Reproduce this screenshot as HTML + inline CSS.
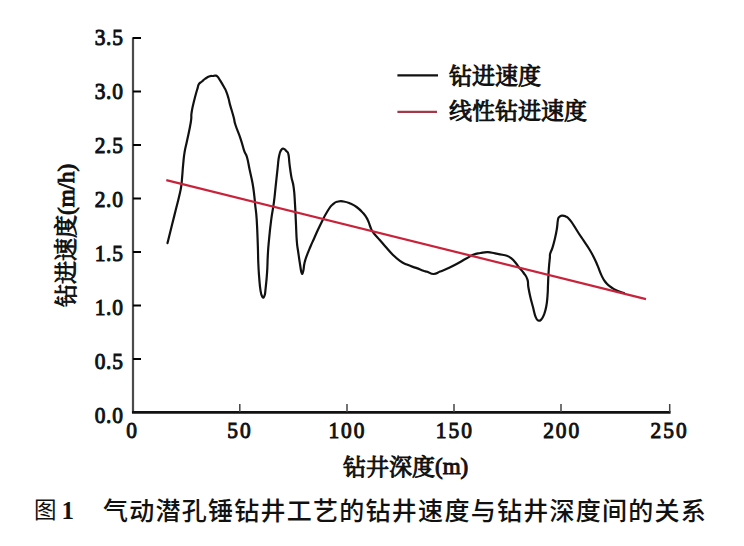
<!DOCTYPE html>
<html><head><meta charset="utf-8">
<style>
html,body{margin:0;padding:0;background:#fff;}
body{width:744px;height:546px;overflow:hidden;position:relative;}
svg{position:absolute;left:0;top:0;}
.tl{font-family:"Liberation Serif",serif;font-size:23.8px;fill:#111;stroke:#111;stroke-width:1.0;}
.cj{font-family:"Liberation Serif","Noto Serif CJK SC",serif;font-size:23px;fill:#111;stroke:#111;stroke-width:0.95;}
.cap{font-family:"Liberation Sans","Noto Sans CJK SC",sans-serif;font-size:25px;font-weight:500;letter-spacing:1.26px;fill:#111;}
.yt{stroke:#000;stroke-width:2;}
.xt{stroke:#444;stroke-width:1.5;}
</style></head><body>
<svg width="744" height="546" viewBox="0 0 744 546">
<line x1="133" y1="37.2" x2="133" y2="413" stroke="#4a4a4a" stroke-width="2.2"/>
<line x1="132" y1="412.3" x2="670.6" y2="412.3" stroke="#111" stroke-width="2.8"/>
<text transform="translate(123.6,422.6) scale(0.9,1)" class="tl" letter-spacing="0.8" text-anchor="end">0.0</text>
<line x1="133" y1="359.0" x2="141" y2="359.0" class="yt"/>
<text transform="translate(123.6,368.6) scale(0.9,1)" class="tl" letter-spacing="0.8" text-anchor="end">0.5</text>
<line x1="133" y1="305.5" x2="141" y2="305.5" class="yt"/>
<text transform="translate(123.6,314.6) scale(0.9,1)" class="tl" letter-spacing="0.8" text-anchor="end">1.0</text>
<line x1="133" y1="252.0" x2="141" y2="252.0" class="yt"/>
<text transform="translate(123.6,260.6) scale(0.9,1)" class="tl" letter-spacing="0.8" text-anchor="end">1.5</text>
<line x1="133" y1="198.5" x2="141" y2="198.5" class="yt"/>
<text transform="translate(123.6,206.6) scale(0.9,1)" class="tl" letter-spacing="0.8" text-anchor="end">2.0</text>
<line x1="133" y1="145.0" x2="141" y2="145.0" class="yt"/>
<text transform="translate(123.6,152.6) scale(0.9,1)" class="tl" letter-spacing="0.8" text-anchor="end">2.5</text>
<line x1="133" y1="91.5" x2="141" y2="91.5" class="yt"/>
<text transform="translate(123.6,98.6) scale(0.9,1)" class="tl" letter-spacing="0.8" text-anchor="end">3.0</text>
<line x1="133" y1="38.0" x2="141" y2="38.0" class="yt"/>
<text transform="translate(123.6,44.6) scale(0.9,1)" class="tl" letter-spacing="0.8" text-anchor="end">3.5</text>
<text transform="translate(132.6,437.8) scale(0.9,1)" class="tl" letter-spacing="2.2" text-anchor="middle">0</text>
<line x1="239.8" y1="404" x2="239.8" y2="412" class="xt"/>
<text transform="translate(240.0,437.8) scale(0.9,1)" class="tl" letter-spacing="2.2" text-anchor="middle">50</text>
<line x1="347.0" y1="404" x2="347.0" y2="412" class="xt"/>
<text transform="translate(347.4,437.8) scale(0.9,1)" class="tl" letter-spacing="2.2" text-anchor="middle">100</text>
<line x1="454.0" y1="404" x2="454.0" y2="412" class="xt"/>
<text transform="translate(454.8,437.8) scale(0.9,1)" class="tl" letter-spacing="2.2" text-anchor="middle">150</text>
<line x1="561.0" y1="404" x2="561.0" y2="412" class="xt"/>
<text transform="translate(562.2,437.8) scale(0.9,1)" class="tl" letter-spacing="2.2" text-anchor="middle">200</text>
<line x1="669.7" y1="404" x2="669.7" y2="412" class="xt"/>
<text transform="translate(669.6,437.8) scale(0.9,1)" class="tl" letter-spacing="2.2" text-anchor="middle">250</text>

<path d="M167.50,243.10 C168.73,238.17 169.81,233.83 172.10,224.60 C174.39,215.37 174.23,216.02 176.10,208.50 C177.97,200.98 177.74,202.32 179.10,196.40 C180.46,190.48 180.37,191.66 181.20,186.30 C182.03,180.94 181.67,182.19 182.20,176.30 C182.73,170.41 182.56,170.65 183.20,164.20 C183.84,157.75 183.53,158.55 184.60,152.10 C185.67,145.65 185.55,147.95 187.20,140.00 C188.85,132.05 189.65,129.39 190.80,122.30 C191.95,115.21 190.86,118.12 191.50,113.40 C192.14,108.68 192.16,109.29 193.20,104.60 C194.24,99.91 194.23,100.20 195.40,95.80 C196.57,91.40 196.67,91.19 197.60,88.10 C198.53,85.01 197.73,85.96 198.90,84.20 C200.07,82.44 200.29,82.97 202.00,81.50 C203.71,80.03 203.25,80.09 205.30,78.70 C207.35,77.31 207.65,77.02 209.70,76.30 C211.75,75.58 211.53,76.16 213.00,76.00 C214.47,75.84 214.03,75.57 215.20,75.70 C216.37,75.83 216.09,75.25 217.40,76.50 C218.71,77.75 218.34,77.60 220.10,80.40 C221.86,83.20 222.37,84.07 224.00,87.00 C225.63,89.93 225.03,88.47 226.20,91.40 C227.37,94.33 227.39,94.48 228.40,98.00 C229.41,101.52 229.15,101.40 230.00,104.60 C230.85,107.80 230.59,106.51 231.60,110.00 C232.61,113.49 232.76,113.70 233.80,117.70 C234.84,121.70 233.69,119.37 235.50,125.00 C237.31,130.63 238.28,131.89 240.60,138.80 C242.92,145.71 242.49,145.97 244.20,150.90 C245.91,155.83 245.53,152.18 247.00,157.30 C248.47,162.42 248.23,163.25 249.70,170.10 C251.17,176.95 251.27,176.15 252.50,183.00 C253.73,189.85 253.58,189.93 254.30,195.80 C255.02,201.67 254.56,198.65 255.20,205.00 C255.84,211.35 256.01,209.01 256.70,219.60 C257.39,230.19 257.37,233.13 257.80,244.70 C258.23,256.27 257.93,254.23 258.30,263.00 C258.67,271.77 258.61,270.29 259.20,277.60 C259.79,284.91 259.67,285.28 260.50,290.40 C261.33,295.52 261.26,295.33 262.30,296.80 C263.34,298.27 263.52,298.09 264.40,295.90 C265.28,293.71 264.88,294.95 265.60,288.60 C266.32,282.25 266.51,280.90 267.10,272.10 C267.69,263.30 267.32,263.89 267.80,255.60 C268.28,247.31 268.02,250.33 268.90,241.00 C269.78,231.67 269.77,230.92 271.10,220.60 C272.43,210.28 272.67,211.58 273.90,202.30 C275.13,193.02 274.74,194.60 275.70,185.80 C276.66,177.00 276.62,177.11 277.50,169.30 C278.38,161.49 278.01,161.62 279.00,156.50 C279.99,151.38 279.97,152.15 281.20,150.10 C282.43,148.05 282.13,148.45 283.60,148.80 C285.07,149.15 285.39,149.83 286.70,151.40 C288.01,152.97 287.75,151.39 288.50,154.70 C289.25,158.01 288.75,157.96 289.50,163.80 C290.25,169.64 290.18,170.25 291.30,176.60 C292.42,182.95 292.71,180.27 293.70,187.60 C294.69,194.93 294.41,194.82 295.00,204.10 C295.59,213.38 295.42,212.56 295.90,222.40 C296.38,232.24 296.19,233.11 296.80,241.00 C297.41,248.89 297.32,245.65 298.20,252.00 C299.08,258.35 299.17,259.20 300.10,264.80 C301.03,270.40 300.87,271.29 301.70,273.00 C302.53,274.71 302.45,273.87 303.20,271.20 C303.95,268.53 303.54,267.16 304.50,263.00 C305.46,258.84 305.20,260.00 306.80,255.60 C308.40,251.20 308.53,251.14 310.50,246.50 C312.47,241.86 311.51,244.15 314.20,238.20 C316.89,232.25 316.95,231.59 320.60,224.20 C324.25,216.81 324.49,215.91 327.90,210.50 C331.31,205.09 330.65,206.30 333.40,203.90 C336.15,201.50 335.45,202.14 338.20,201.50 C340.95,200.86 340.53,200.97 343.70,201.50 C346.87,202.03 346.66,202.03 350.10,203.50 C353.54,204.97 353.16,204.47 356.60,207.00 C360.04,209.53 360.09,209.69 363.00,213.00 C365.91,216.31 365.55,215.75 367.50,219.40 C369.45,223.05 368.83,223.29 370.30,226.70 C371.77,230.11 370.81,229.03 373.00,232.20 C375.19,235.37 375.33,234.95 378.50,238.60 C381.67,242.25 381.22,241.74 384.90,245.90 C388.58,250.06 388.38,250.28 392.30,254.20 C396.22,258.12 395.71,257.83 399.60,260.60 C403.49,263.37 402.50,262.65 406.90,264.60 C411.30,266.55 411.70,266.27 416.10,267.90 C420.50,269.53 420.41,269.66 423.40,270.70 C426.39,271.74 424.55,270.92 427.30,271.80 C430.05,272.68 430.29,274.05 433.70,274.00 C437.11,273.95 436.42,273.07 440.10,271.60 C443.78,270.13 443.10,270.53 447.50,268.50 C451.90,266.47 451.72,266.59 456.60,264.00 C461.48,261.41 461.40,261.25 465.80,258.80 C470.20,256.35 469.21,256.35 473.10,254.80 C476.99,253.25 476.48,253.69 480.40,253.00 C484.32,252.31 483.88,252.09 487.80,252.20 C491.72,252.31 491.21,252.71 495.10,253.40 C498.99,254.09 498.75,253.95 502.40,254.80 C506.05,255.65 505.63,254.89 508.80,256.60 C511.97,258.31 511.55,258.29 514.30,261.20 C517.05,264.11 516.59,264.35 519.10,267.50 C521.61,270.65 521.49,269.83 523.70,273.00 C525.91,276.17 526.17,275.75 527.40,279.40 C528.63,283.05 527.58,282.30 528.30,286.70 C529.02,291.10 528.87,290.54 530.10,295.90 C531.33,301.26 531.43,301.20 532.90,306.80 C534.37,312.40 534.13,313.25 535.60,316.90 C537.07,320.55 536.93,319.78 538.40,320.50 C539.87,321.22 539.66,321.04 541.10,319.60 C542.54,318.16 542.44,318.51 543.80,315.10 C545.16,311.69 545.21,311.92 546.20,306.80 C547.19,301.68 547.02,301.74 547.50,295.90 C547.98,290.06 547.76,290.29 548.00,284.90 C548.24,279.51 548.13,280.58 548.40,275.70 C548.67,270.82 548.60,271.48 549.00,266.60 C549.40,261.72 549.61,260.76 549.90,257.40 C550.19,254.04 549.41,256.61 550.10,254.00 C550.79,251.39 551.27,251.49 552.50,247.60 C553.73,243.71 553.55,244.28 554.70,239.40 C555.85,234.52 555.95,234.45 556.80,229.30 C557.65,224.15 557.26,223.38 557.90,220.10 C558.54,216.82 558.11,218.20 559.20,217.00 C560.29,215.80 560.29,215.76 562.00,215.60 C563.71,215.44 563.65,215.44 565.60,216.40 C567.55,217.36 567.09,216.75 569.30,219.20 C571.51,221.65 571.45,221.92 573.90,225.60 C576.35,229.28 575.81,228.84 578.50,233.00 C581.19,237.16 581.07,236.80 584.00,241.20 C586.93,245.60 586.83,245.10 589.50,249.50 C592.17,253.90 591.81,253.33 594.00,257.70 C596.19,262.07 595.73,261.26 597.70,265.90 C599.67,270.54 599.45,270.94 601.40,275.10 C603.35,279.26 602.81,278.57 605.00,281.50 C607.19,284.43 606.91,283.91 609.60,286.10 C612.29,288.29 612.17,288.10 615.10,289.70 C618.03,291.30 618.25,291.22 620.60,292.10 C622.95,292.98 623.02,292.76 623.90,293.00" fill="none" stroke="#111" stroke-width="2.2" stroke-linejoin="round" stroke-linecap="round"/>
<line x1="166.3" y1="180.1" x2="646" y2="299.1" stroke="#c8233a" stroke-width="2.2"/>
<line x1="397.4" y1="75.4" x2="438" y2="75.4" stroke="#111" stroke-width="2.2"/>
<line x1="397.4" y1="111.9" x2="437" y2="111.9" stroke="#a33848" stroke-width="2.1"/>
<text x="449" y="84" class="cj">钻进速度</text>
<text x="449" y="118.5" class="cj">线性钻进速度</text>
<text x="343" y="475" class="cj">钻井深度<tspan dy="-1.5">(m)</tspan></text>
<text transform="translate(74,307) rotate(-90)" class="cj">钻进速度(m/h)</text>
<text x="34" y="517.7" class="cap" style="font-size:22.5px;font-weight:400;letter-spacing:0">图</text>
<text x="61.5" y="519" font-family="Liberation Serif" font-weight="bold" font-size="25" fill="#111">1</text>
<text x="103" y="520.3" class="cap">气动潜孔锤钻井工艺的钻井速度与钻井深度间的关系</text>
</svg>
</body></html>
